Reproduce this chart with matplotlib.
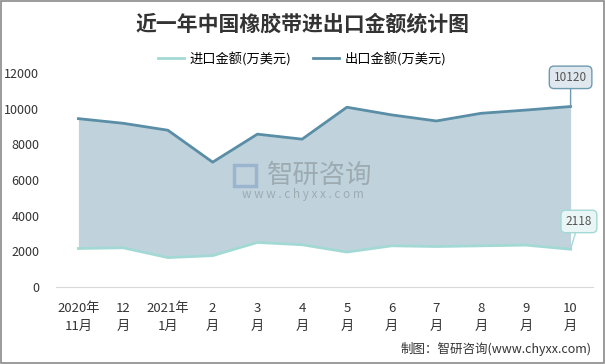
import matplotlib.pyplot as plt
import matplotlib.patches as patches

plt.rcParams['font.family'] = ['Noto Sans CJK SC', 'DejaVu Sans']

months = ["2020年\n11月", "12\n月", "2021年\n1月", "2\n月", "3\n月", "4\n月",
          "5\n月", "6\n月", "7\n月", "8\n月", "9\n月", "10\n月"]
import_vals = [2160, 2200, 1650, 1760, 2500, 2370, 1960, 2310, 2270, 2310, 2350, 2118]
export_vals = [9440, 9180, 8790, 7000, 8570, 8290, 10080, 9650, 9310, 9740, 9920, 10120]

c_import = "#a3d9d5"
c_export = "#5a8ea6"
c_fill = "#c0d3dc"

fig = plt.figure(figsize=(6.05, 3.64), dpi=100)
fig.patches.append(patches.Rectangle((0.001, 0.002), 0.997, 0.995, transform=fig.transFigure,
                                     fill=False, edgecolor="#8a8a8a", linewidth=1.2))

ax = fig.add_axes([0.0926, 0.2115, 0.8875, 0.588])
x = range(len(months))

ax.fill_between(x, import_vals, export_vals, color=c_fill, linewidth=0)
ax.plot(x, import_vals, color=c_import, linewidth=2, label="进口金额(万美元)")
ax.plot(x, export_vals, color=c_export, linewidth=2, label="出口金额(万美元)")

ax.set_xlim(-0.5, len(months) - 0.5)
ax.set_ylim(0, 12000)
ax.set_yticks(range(0, 12001, 2000))
ax.set_xticks(list(x))
ax.set_xticklabels(months, fontsize=9.5, color="#333333", linespacing=1.45)
ax.tick_params(axis="y", labelsize=9, labelcolor="#333333", length=0, pad=12)
ax.tick_params(axis="x", length=0, pad=11)
for s in ["top", "right", "left"]:
    ax.spines[s].set_visible(False)
ax.spines["bottom"].set_color("#d9d9d9")

# 末端数据标注
last = len(months) - 1
ax.annotate(str(export_vals[-1]), (last, export_vals[-1]), xytext=(0, 21),
            textcoords="offset points", ha="center", va="center", fontsize=8.5, color="#555555",
            bbox=dict(boxstyle="round,pad=0.4", fc="#dfe8ee", ec="#6f9bb0", lw=1),
            arrowprops=dict(arrowstyle="-", color="#6f9bb0", lw=1, shrinkA=0, shrinkB=0))
ax.annotate(str(import_vals[-1]), (last, import_vals[-1]), xytext=(6, 20),
            textcoords="offset points", ha="center", va="center", fontsize=8.5, color="#555555",
            bbox=dict(boxstyle="round,pad=0.4", fc="#eaf6f6", ec="#a3d9d5", lw=1),
            arrowprops=dict(arrowstyle="-", color="#a3d9d5", lw=1, shrinkA=0, shrinkB=0))

# 水印
fig.text(0.529, 0.519, "智研咨询", fontsize=19, color="#8f9aa0", alpha=0.7, ha="center", va="center")
fig.text(0.5, 0.467, "w w w . c h y x x . c o m", fontsize=8.5, color="#8f9aa0", alpha=0.7,
         ha="center", va="center")
fig.patches.append(patches.Rectangle((0.387, 0.49), 0.036, 0.058, transform=fig.transFigure,
                                     fill=False, edgecolor="#93aecb", linewidth=2.5, alpha=0.8))

fig.text(0.5, 0.935, "近一年中国橡胶带进出口金额统计图", fontsize=15, fontweight="bold",
         color="#333333", ha="center", va="center")
fig.legend(loc="center", bbox_to_anchor=(302 / 605, 1 - 59 / 364), ncol=2, frameon=False,
           fontsize=9.5, handlelength=2.0, handletextpad=0.4, columnspacing=1.6)
fig.text(0.978, 0.041, "制图：智研咨询(www.chyxx.com)", fontsize=9, color="#333333",
         ha="right", va="center")

fig.savefig("out.png", dpi=100)
